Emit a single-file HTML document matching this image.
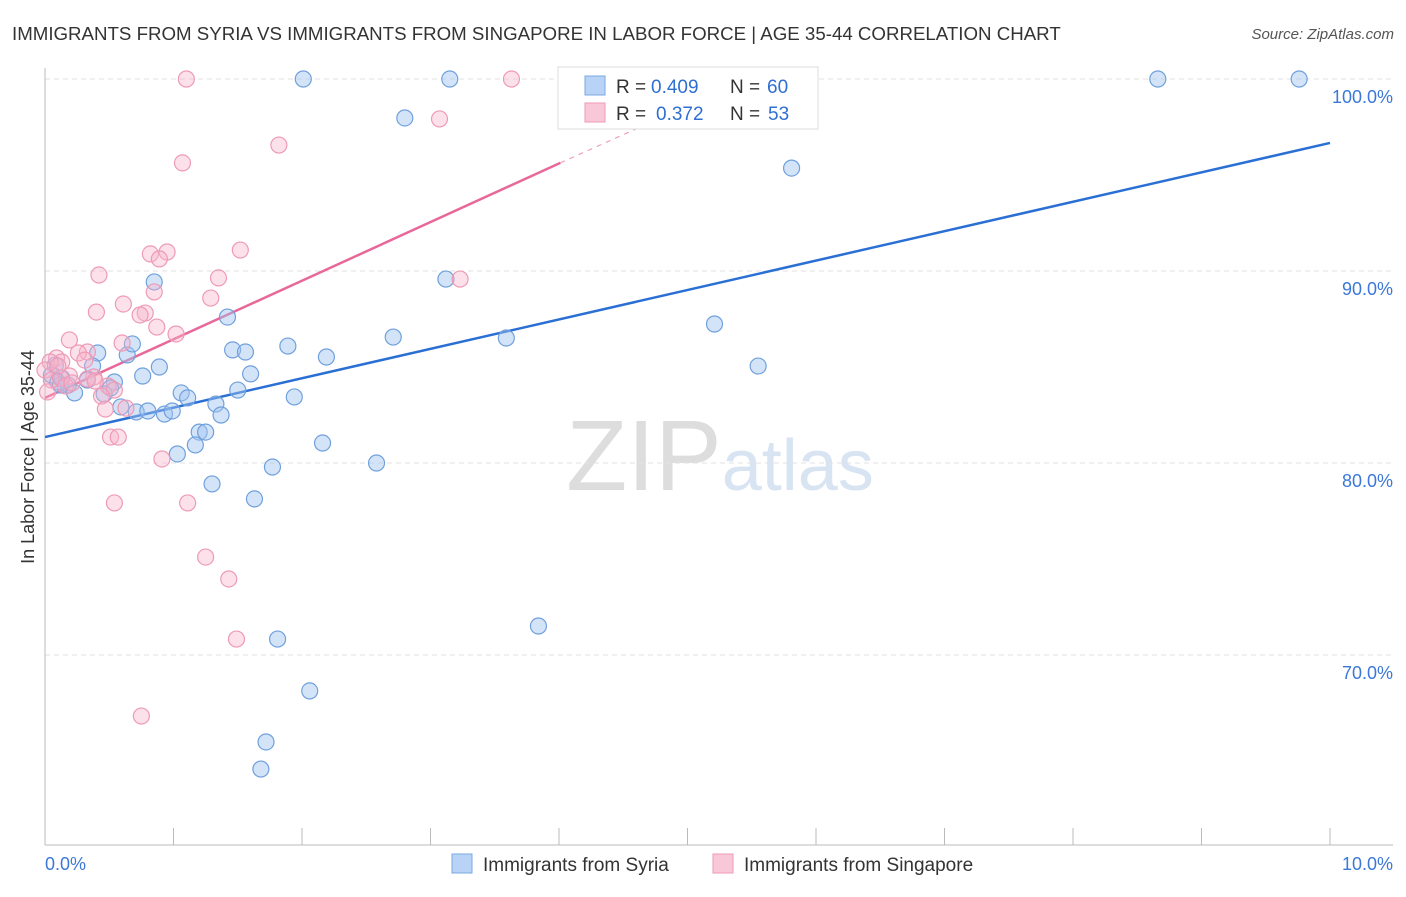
<!DOCTYPE html>
<html><head><meta charset="utf-8">
<style>
body{margin:0;background:#fff;font-family:"Liberation Sans",sans-serif;}
svg text{font-family:"Liberation Sans",sans-serif;}
</style></head>
<body>
<svg width="1406" height="892" viewBox="0 0 1406 892">
<text x="12" y="40" font-size="18.7" fill="#333">IMMIGRANTS FROM SYRIA VS IMMIGRANTS FROM SINGAPORE IN LABOR FORCE | AGE 35-44 CORRELATION CHART</text>
<text x="1394" y="39" font-size="15" fill="#555" font-style="italic" text-anchor="end">Source: ZipAtlas.com</text>
<text x="720" y="490" font-size="100" fill="#e3e3e3" text-anchor="middle" font-family="Liberation Serif"><tspan fill="#dddddd">ZIP</tspan><tspan fill="#d8e4f2" font-family="Liberation Sans" font-size="72">atlas</tspan></text>
<text transform="translate(34,457) rotate(-90)" font-size="18" fill="#333" text-anchor="middle">In Labor Force | Age 35-44</text>
<g id="grid"></g>
<g id="axes"></g>
<g id="lines"></g>
<g id="pts"></g>
<g>
<rect x="558" y="67" width="260" height="62" fill="#fff" stroke="#ddd"/>
<rect x="585" y="76" width="20" height="19" fill="#b8d3f5" stroke="#7aa8e0"/>
<rect x="585" y="103" width="20" height="19" fill="#f9c8d8" stroke="#ee9ab6"/>
<text x="616" y="93" font-size="19" fill="#333">R =</text>
<text x="651" y="93" font-size="19" fill="#2f6fd1">0.409</text>
<text x="730" y="93" font-size="19" fill="#333">N =</text>
<text x="767" y="93" font-size="19" fill="#2f6fd1">60</text>
<text x="616" y="120" font-size="19" fill="#333">R =</text>
<text x="656" y="120" font-size="19" fill="#2f6fd1">0.372</text>
<text x="730" y="120" font-size="19" fill="#333">N =</text>
<text x="768" y="120" font-size="19" fill="#2f6fd1">53</text>
</g>
<g>
<rect x="452" y="854" width="20" height="19" fill="#b8d3f5" stroke="#7aa8e0"/>
<text x="483" y="871" font-size="19" fill="#333">Immigrants from Syria</text>
<rect x="713" y="854" width="20" height="19" fill="#f9c8d8" stroke="#ee9ab6"/>
<text x="744" y="871" font-size="19" fill="#333">Immigrants from Singapore</text>
</g>
</svg>
<script>
const syriaX=[2.01,3.15,8.66,9.76,2.80,5.81,3.12,0.85,1.42,5.21,2.71,3.59,1.89,1.46,1.56,0.64,0.68,0.41,2.19,5.55,0.89,0.37,1.60,0.76,0.05,0.10,0.18,0.33,0.54,0.51,0.23,0.46,1.06,1.11,1.50,1.94,1.33,0.59,0.71,0.80,0.93,0.99,1.37,1.20,1.25,1.17,1.03,2.16,2.58,1.77,1.30,1.63,3.84,1.81,2.06,1.72,1.68,0.12,0.13,0.08];
const syriaY=[100,100,100,100,97.97,95.36,89.58,89.43,87.60,87.24,86.56,86.51,86.09,85.89,85.78,85.63,86.20,85.73,85.52,85.05,85.00,85.05,84.64,84.53,84.58,84.22,84.06,84.32,84.22,83.91,83.65,83.59,83.65,83.39,83.80,83.44,83.07,82.92,82.66,82.71,82.55,82.71,82.50,81.61,81.61,80.94,80.47,81.04,80.00,79.79,78.91,78.13,71.51,70.83,68.13,65.47,64.06,84.06,84.43,85.10];
const singX=[1.10,3.63,3.07,1.07,1.82,1.52,0.95,0.82,0.89,0.42,1.35,3.23,0.85,1.29,0.61,0.40,0.78,0.74,0.87,1.02,0.19,0.60,0.33,0.26,0.09,0.13,0.04,0.00,0.05,0.12,0.38,0.19,0.33,0.16,0.49,0.54,0.44,0.47,0.63,0.51,0.57,0.91,0.54,1.11,1.25,1.43,1.49,0.75,0.39,0.02,0.31,0.10,0.21];
const singY=[100,100,97.92,95.63,96.56,91.09,90.99,90.89,90.63,89.79,89.64,89.58,88.91,88.59,88.28,87.86,87.81,87.71,87.08,86.72,86.41,86.25,85.78,85.73,85.47,85.26,85.26,84.84,84.32,84.43,84.48,84.53,84.38,84.01,84.01,83.80,83.49,82.81,82.86,81.35,81.35,80.21,77.92,77.92,75.10,73.96,70.83,66.82,84.27,83.70,85.36,85.05,84.17];
const yTicks=[100,90,80,70];
const yTickLabels=["100.0%","90.0%","80.0%","70.0%"];
const xTickLabels=["0.0%","10.0%"];
const syriaTrend=[81.35,96.67];
const singTrend=[83.39,95.63,98.0];
const singTrendX=[0,4.01,4.8];

const NS="http://www.w3.org/2000/svg";
const X=v=>45+v*128.5, Y=v=>79+(100-v)*19.2;
function mk(parent,tag,at){const e=document.createElementNS(NS,tag);for(const k in at)e.setAttribute(k,at[k]);document.getElementById(parent).appendChild(e);return e;}
yTicks.forEach((t,i)=>{
 const l=mk('grid','line',{x1:45,x2:1393,y1:Y(t),y2:Y(t),stroke:'#e2e2e2','stroke-dasharray':'5,4'});
 
 
 const tx=mk('grid','text',{x:1393,y:Y(t)+24,'font-size':18,fill:'#3b78d8','text-anchor':'end'});
 tx.textContent=yTickLabels[i];
 
 
});
let a=mk('axes','line',{x1:45,x2:45,y1:68,y2:845,stroke:'#bbb'});


a=mk('axes','line',{x1:45,x2:1393,y1:845,y2:845,stroke:'#bbb'});


for(let i=0;i<=10;i++){const t=mk('axes','line',{x1:X(i),x2:X(i),y1:828,y2:845,stroke:'#bbb'});
 
 }
let xl=mk('axes','text',{x:45,y:870,'font-size':18,fill:'#3b78d8'});xl.textContent=xTickLabels[0];


xl=mk('axes','text',{x:1393,y:870,'font-size':18,fill:'#3b78d8','text-anchor':'end'});xl.textContent=xTickLabels[1];



function pts(xs,ys,fill,stroke,name){xs.forEach((x,i)=>{const c=mk('pts','circle',{cx:X(x),cy:Y(ys[i]),r:8,fill:fill,stroke:stroke,'stroke-width':1.2});
 
 });}
pts(syriaX,syriaY,'rgba(160,196,240,0.45)','#6fa0dc','syria-point');
pts(singX,singY,'rgba(247,180,203,0.4)','#ee9ab6','singapore-point');
let tl=mk('lines','line',{x1:X(0),y1:Y(syriaTrend[0]),x2:X(10),y2:Y(syriaTrend[1]),stroke:'#2a6fd4','stroke-width':2.5});


tl=mk('lines','line',{x1:X(singTrendX[0]),y1:Y(singTrend[0]),x2:X(singTrendX[1]),y2:Y(singTrend[1]),stroke:'#e8689a','stroke-width':2.5});


tl=mk('lines','line',{x1:X(singTrendX[1]),y1:Y(singTrend[1]),x2:X(singTrendX[2]),y2:Y(singTrend[2]),stroke:'#f0a0be','stroke-width':1.2,'stroke-dasharray':'5,5'});


</script>
</body></html>
